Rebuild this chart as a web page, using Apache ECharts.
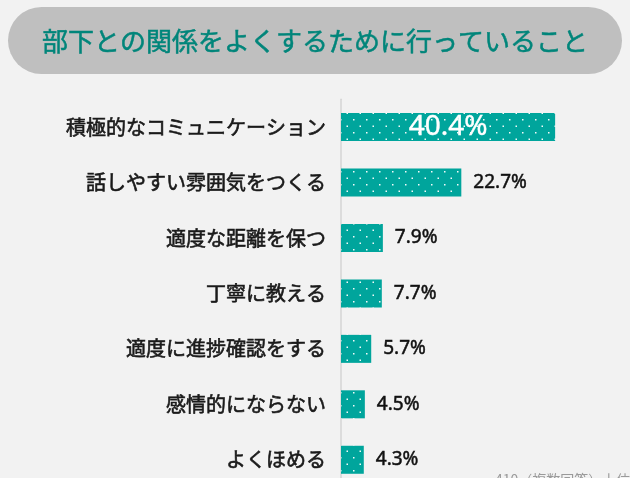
<!DOCTYPE html>
<html>
<head>
<meta charset="utf-8">
<script src="https://cdn.jsdelivr.net/npm/echarts@6/dist/echarts.min.js"></script>
<style>
html,body{margin:0;padding:0;background:#f2f2f2;}
#c{width:630px;height:478px;}
</style>
</head>
<body>
<div id="c"></div>
<script>
var title = '部下との関係をよくするために行っていること';
var categories = ['積極的なコミュニケーション','話しやすい雰囲気をつくる','適度な距離を保つ','丁寧に教える','適度に進捗確認をする','感情的にならない','よくほめる'];
var values = [40.4, 22.7, 7.9, 7.7, 5.7, 4.5, 4.3];
var note = '410（複数回答）上位7項目';

// dotted fill pattern
var pc = document.createElement('canvas');
pc.width = 13; pc.height = 13;
var g = pc.getContext('2d');
g.fillStyle = '#00a59c';
g.fillRect(0, 0, 13, 13);
g.fillStyle = 'rgba(255,255,255,0.95)';
g.fillRect(2, 2, 1.5, 1.5);
g.fillRect(8.5, 8.5, 1.5, 1.5);

var chart = echarts.init(document.getElementById('c'), null, {renderer:'canvas'});
var data = values.map(function(v, i){
  var d = {value: v};
  if (i === 0) {
    d.label = {position:'inside', color:'#ffffff', fontSize:28, fontWeight:'normal', textBorderColor:'#ffffff', textBorderWidth:0.4, distance:0};
  }
  return d;
});
chart.setOption({
  backgroundColor: '#f2f2f2',
  animation: false,
  graphic: [
    {type:'rect', shape:{x:8, y:7, width:614, height:67, r:33.5}, style:{fill:'#bfbfbf'}, z:0},
    {type:'text', x:315, y:41, style:{text:title, fill:'#00857a', stroke:'#00857a', lineWidth:0.5, font:'26px "Noto Sans CJK JP"', align:'center', verticalAlign:'middle'}, z:1},
    {type:'text', x:495, y:473, style:{text:note, fill:'#9a9a9a', font:'14px "Noto Sans CJK JP"', align:'left', verticalAlign:'top'}, z:1}
  ],
  grid: {left:341, top:99.3, right:24, bottom:-9.5, containLabel:false, outerBoundsMode:'none'},
  xAxis: {type:'value', min:0, max:50, show:false},
  yAxis: {
    type:'category', data:categories, inverse:true,
    axisLine:{show:true, lineStyle:{color:'#d4d4d4', width:1.5}},
    axisTick:{show:false},
    axisLabel:{color:'#1a1a1a', fontSize:20, fontWeight:'normal', fontFamily:'"Noto Sans CJK JP"', margin:15,
      textBorderColor:'#1a1a1a', textBorderWidth:0.6}
  },
  series: [{
    type:'bar', data:data, barWidth:28,
    itemStyle:{color:{image:pc, repeat:'repeat'}},
    label:{show:true, position:'right', distance:12, color:'#111111', fontSize:19, fontWeight:'normal', fontFamily:'"Noto Sans"',
      textBorderColor:'#111111', textBorderWidth:0.5,
      formatter:function(p){return p.value.toFixed(1)+'%';}}
  }]
});
</script>
</body>
</html>
